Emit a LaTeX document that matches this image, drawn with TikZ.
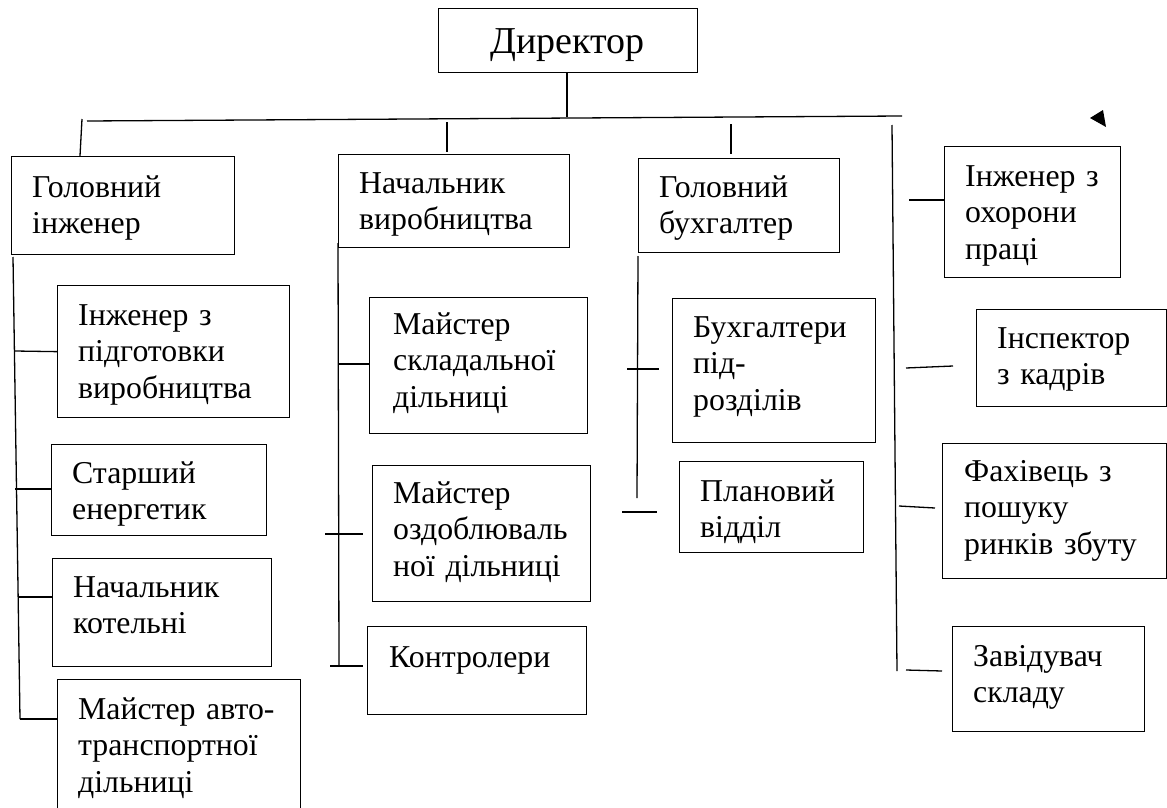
\documentclass[tikz,border=0pt]{standalone}
\usepackage{fontspec}
\setmainfont{Liberation Serif}
\begin{document}
\begin{tikzpicture}[x=1pt,y=-1pt,
  box/.style={draw, line width=1.3pt, rectangle, inner sep=0pt, anchor=north west},
  lbl/.style={anchor=base west, inner sep=0pt, align=left, text width=260pt, font=\fontsize{31.8}{36.7}\selectfont},
  ln/.style={line width=1.3pt}]
\clip (0,0) rectangle (1167,808);
\fill[white] (0,0) rectangle (1167,808);
% boxes
\node[box, minimum width=259pt, minimum height=64pt] (dir) at (438,8) {};
\node[box, minimum width=223pt, minimum height=98pt] (gi) at (11,156) {};
\node[box, minimum width=231pt, minimum height=93pt] (nv) at (338,154) {};
\node[box, minimum width=201pt, minimum height=94pt] (gb) at (638,158) {};
\node[box, minimum width=176pt, minimum height=131pt] (io) at (944,146) {};
\node[box, minimum width=232pt, minimum height=132pt] (ip) at (57,285) {};
\node[box, minimum width=215pt, minimum height=91pt] (se) at (51,444) {};
\node[box, minimum width=219pt, minimum height=108pt] (nk) at (52,558) {};
\node[box, minimum width=243pt, minimum height=160pt] (ma) at (57,679) {};
\node[box, minimum width=218pt, minimum height=136pt] (ms) at (369,297) {};
\node[box, minimum width=218pt, minimum height=136pt] (mo) at (372,465) {};
\node[box, minimum width=219pt, minimum height=88pt] (kn) at (367,626) {};
\node[box, minimum width=203pt, minimum height=144pt] (bp) at (672,298) {};
\node[box, minimum width=184pt, minimum height=91pt] (pv) at (679,461) {};
\node[box, minimum width=190pt, minimum height=97pt] (ik) at (976,309) {};
\node[box, minimum width=224pt, minimum height=135pt] (fp) at (942,443) {};
\node[box, minimum width=192pt, minimum height=105pt] (zs) at (952,626) {};
% texts
\node[anchor=base, inner sep=0pt, font=\fontsize{38}{44}\selectfont] (t-dir) at (567.5,53) {Директор};
\node[lbl] (t-gi) at (32,197) {Головний\\інженер};
\node[lbl] (t-nv) at (359,193) {Начальник\\виробництва};
\node[lbl] (t-gb) at (659,197) {Головний\\бухгалтер};
\node[lbl] (t-io) at (965,186) {Інженер з\\охорони\\праці};
\node[lbl] (t-ip) at (78,325) {Інженер з\\підготовки\\виробництва};
\node[lbl] (t-se) at (72,483) {Старший\\енергетик};
\node[lbl] (t-nk) at (73,597) {Начальник\\котельні};
\node[lbl] (t-ma) at (78,719) {Майстер авто-\\транспортної\\дільниці};
\node[lbl] (t-ms) at (393,334) {Майстер\\складальної\\дільниці};
\node[lbl] (t-mo) at (393,503) {Майстер\\оздоблюваль\\ної дільниці};
\node[lbl] (t-kn) at (389,667) {Контролери};
\node[lbl] (t-bp) at (693,337) {Бухгалтери\\під-\\розділів};
\node[lbl] (t-pv) at (700,501) {Плановий\\відділ};
\node[lbl] (t-ik) at (997,348) {Інспектор\\з кадрів};
\node[lbl] (t-fp) at (964,481) {Фахівець з\\пошуку\\ринків збуту};
\node[lbl] (t-zs) at (973,666) {Завідувач\\складу};
% coordinates for connector ends
\coordinate (hl) at (87,121);
\coordinate (hr) at (902,116);
\coordinate (hd) at (567,117);
\coordinate (tg1) at (82,119);   \coordinate (tg2) at (80,156);
\coordinate (tn1) at (447,122);  \coordinate (tn2) at (447,152);
\coordinate (tb1) at (731,124);  \coordinate (tb2) at (731,154);
\coordinate (vr1) at (892,125);  \coordinate (vr2) at (897,671);
\coordinate (vg1) at (13,257);   \coordinate (vg2) at (20,719);
\coordinate (vn1) at (338,243);  \coordinate (vn2) at (339,666);
\coordinate (vb1) at (638,256);  \coordinate (vb2) at (637,498);
\coordinate (cip) at (15,351);
\coordinate (cse) at (15,489);
\coordinate (cnk) at (19,597);
\coordinate (cma) at (20,719);
\coordinate (cms) at (338,364);
\coordinate (cmo1) at (325,534); \coordinate (cmo2) at (363,534);
\coordinate (ckn1) at (330,666); \coordinate (ckn2) at (363,666);
\coordinate (cbp1) at (627,369); \coordinate (cbp2) at (659,369);
\coordinate (cpv1) at (622,512); \coordinate (cpv2) at (657,512);
\coordinate (cio) at (909,200);
\coordinate (cik1) at (906,368); \coordinate (cik2) at (953,366);
\coordinate (cfp1) at (899,506); \coordinate (cfp2) at (935,508);
\coordinate (czs1) at (906,670); \coordinate (czs2) at (942,671);
% connectors
\draw[ln] (hl) -- (hr);
\draw[ln] (dir.south -| hd) -- (hd);
\draw[ln] (tg1) -- (tg2);
\draw[ln] (tn1) -- (tn2);
\draw[ln] (tb1) -- (tb2);
\draw[ln] (vr1) -- (vr2);
\draw[ln] (vg1) -- (vg2);
\draw[ln] (vn1) -- (vn2);
\draw[ln] (vb1) -- (vb2);
\draw[ln] (cip) -- (ip.west);
\draw[ln] (cse) -- (cse -| se.west);
\draw[ln] (cnk) -- (cnk -| nk.west);
\draw[ln] (cma) -- (cma -| ma.west);
\draw[ln] (cms) -- (cms -| ms.west);
\draw[ln] (cmo1) -- (cmo2);
\draw[ln] (ckn1) -- (ckn2);
\draw[ln] (cbp1) -- (cbp2);
\draw[ln] (cpv1) -- (cpv2);
\draw[ln] (cio) -- (cio -| io.west);
\draw[ln] (cik1) -- (cik2);
\draw[ln] (cfp1) -- (cfp2);
\draw[ln] (czs1) -- (czs2);
% small arrowhead
\coordinate (ah1) at (1090,118);
\coordinate (ah2) at (1103,110);
\coordinate (ah3) at (1106,127);
\fill (ah1) -- (ah2) -- (ah3) -- cycle;
\end{tikzpicture}
\end{document}
